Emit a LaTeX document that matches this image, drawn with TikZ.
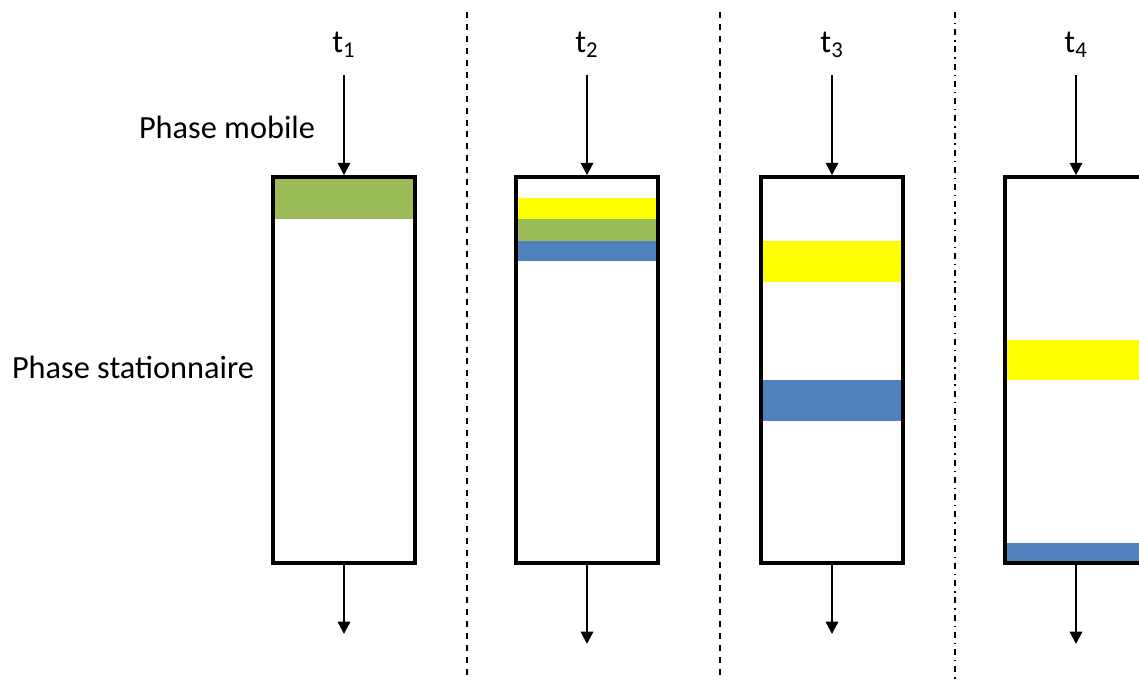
\documentclass[tikz,border=0pt]{standalone}
\usepackage{fontspec}
\setmainfont{Carlito}
\usetikzlibrary{arrows.meta}
\definecolor{bandgreen}{HTML}{9BBB59}
\definecolor{bandyellow}{HTML}{FFFF00}
\definecolor{bandblue}{HTML}{4F81BD}
\begin{document}
\begin{tikzpicture}[x=0.02cm,y=-0.02cm,
  colbox/.style={draw,line width=2.1pt,minimum width=2.84cm,minimum height=7.72cm,inner sep=0pt},
  flow/.style={line width=1.3pt,-{Triangle[width=7pt,length=7pt]}},
  sep/.style={line width=0.6pt,dash pattern=on 3.4pt off 3.4pt},
  sepdot/.style={line width=0.6pt,dash pattern=on 3.4pt off 2.8pt on 0.8pt off 2.8pt},
  lbl/.style={font=\fontsize{18.4}{22}\selectfont}]
\useasboundingbox (0,0) rectangle (1139,680);
\clip (0,0) rectangle (1139,680);

\node[lbl] (mob) at (227,127) {Phase mobile};
\node[lbl] (stat) at (133,367) {Phase stationnaire};

\begin{scope}[shift={(344,0)}]
  \node[lbl] (T1) at (0,45) {t\textsubscript{1}};
  \coordinate (in1) at (0,75);
  \coordinate (out1) at (0,634);
  \fill[bandgreen] (-70,177) rectangle (70,219);
  \node[colbox] (C1) at (0,370) {};
  \draw[flow] (in1) -- (C1.north);
  \draw[flow] (C1.south) -- (out1);
\end{scope}

\begin{scope}[shift={(587,0)}]
  \node[lbl] (T2) at (0,45) {t\textsubscript{2}};
  \coordinate (in2) at (0,75);
  \coordinate (out2) at (0,644);
  \fill[bandyellow] (-70,198) rectangle (70,219);
  \fill[bandgreen] (-70,219) rectangle (70,241);
  \fill[bandblue] (-70,241) rectangle (70,261);
  \node[colbox] (C2) at (0,370) {};
  \draw[flow] (in2) -- (C2.north);
  \draw[flow] (C2.south) -- (out2);
\end{scope}

\begin{scope}[shift={(832,0)}]
  \node[lbl] (T3) at (0,45) {t\textsubscript{3}};
  \coordinate (in3) at (0,75);
  \coordinate (out3) at (0,634);
  \fill[bandyellow] (-70,241) rectangle (70,282);
  \fill[bandblue] (-70,380) rectangle (70,421);
  \node[colbox] (C3) at (0,370) {};
  \draw[flow] (in3) -- (C3.north);
  \draw[flow] (C3.south) -- (out3);
\end{scope}

\begin{scope}[shift={(1076,0)}]
  \node[lbl] (T4) at (0,45) {t\textsubscript{4}};
  \coordinate (in4) at (0,75);
  \coordinate (out4) at (0,644);
  \fill[bandyellow] (-70,340) rectangle (70,380);
  \fill[bandblue] (-70,543) rectangle (70,563);
  \node[colbox] (C4) at (0,370) {};
  \draw[flow] (in4) -- (C4.north);
  \draw[flow] (C4.south) -- (out4);
\end{scope}

% separations
\coordinate (s1a) at (467,12); \coordinate (s1b) at (467,680);
\coordinate (s2a) at (720,12); \coordinate (s2b) at (720,680);
\coordinate (s3a) at (955,12); \coordinate (s3b) at (955,680);
\draw[sep] (s1a) -- (s1b);
\draw[sep] (s2a) -- (s2b);
\draw[sepdot] (s3a) -- (s3b);

\end{tikzpicture}
\end{document}
